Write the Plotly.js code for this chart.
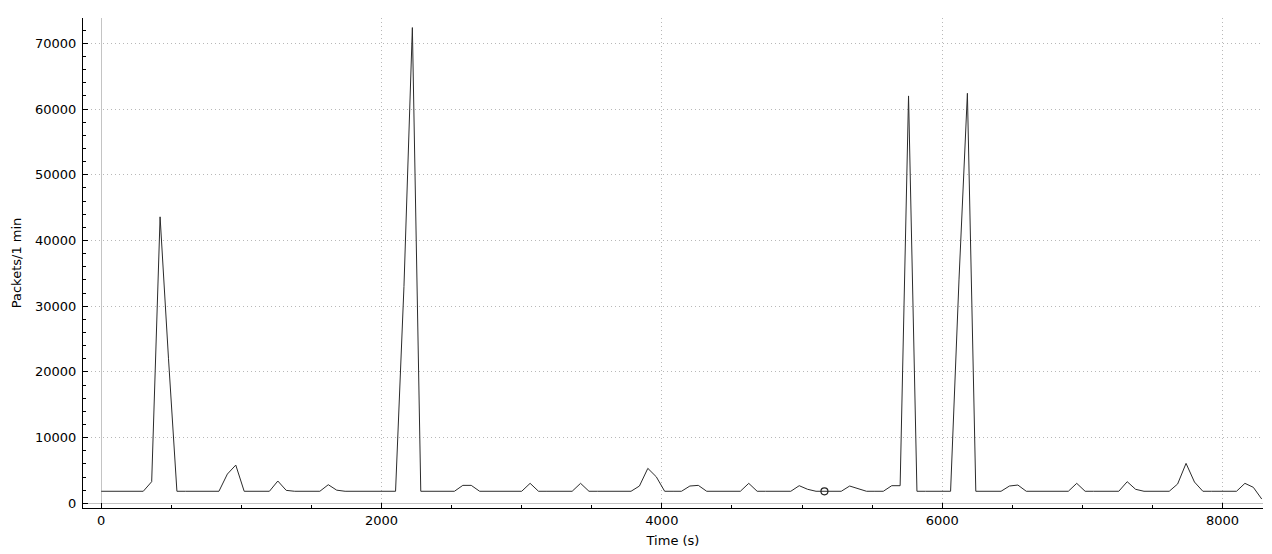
<!DOCTYPE html>
<html>
<head>
<meta charset="utf-8">
<script src="https://cdn.plot.ly/plotly-3.0.1.min.js"></script>
<style>
  html, body { margin: 0; padding: 0; background: #fff; }
  #io-graph { width: 1272px; height: 554px; }
</style>
</head>
<body>
<div id="io-graph"></div>
<script>
// packets per 1 min interval, one value every 60 s starting at t = 0
var packetsPerMin = [
    1830, 1830, 1830, 1830, 1830, 1830, 3290, 43600, 22000, 1830,
    1830, 1830, 1830, 1830, 1830, 4450, 5820, 1830, 1830, 1830,
    1830, 3390, 1970, 1830, 1830, 1830, 1830, 2830, 2000, 1830,
    1830, 1830, 1830, 1830, 1830, 1830, 33000, 72400, 1830, 1830,
    1830, 1830, 1830, 2730, 2730, 1830, 1830, 1830, 1830, 1830,
    1830, 3040, 1830, 1830, 1830, 1830, 1830, 3040, 1830, 1830,
    1830, 1830, 1830, 1830, 2630, 5320, 4040, 1830, 1830, 1830,
    2630, 2730, 1830, 1830, 1830, 1830, 1830, 3040, 1830, 1830,
    1830, 1830, 1830, 2680, 2130, 1830, 1830, 1830, 1830, 2630,
    2250, 1830, 1830, 1830, 2680, 2680, 62000, 1830, 1830, 1830,
    1830, 1830, 34000, 62400, 1830, 1830, 1830, 1830, 2630, 2780,
    1830, 1830, 1830, 1830, 1830, 1830, 3040, 1830, 1830, 1830,
    1830, 1830, 3290, 2130, 1830, 1830, 1830, 1830, 2940, 6080,
    3240, 1830, 1830, 1830, 1830, 1830, 3040, 2430, 650
];
var intervalSec = 60;

// the selected-packet marker
var cursorTime = [5160];
var cursorPackets = [1830];

var xTickVals = [0, 2000, 4000, 6000, 8000];
var yTickVals = [0, 10000, 20000, 30000, 40000, 50000, 60000, 70000];

var trace = {
    y: packetsPerMin,
    x0: 0,
    dx: intervalSec,
    type: "scatter",
    mode: "lines",
    line: {color: "#2b2b2b", width: 1},
    hoverinfo: "skip"
};
var cursor = {
    x: cursorTime,
    y: cursorPackets,
    type: "scatter",
    mode: "markers",
    marker: {symbol: "circle-open", size: 7, color: "#222", line: {width: 1.2}},
    hoverinfo: "skip"
};

var font = {family: "DejaVu Sans, sans-serif", size: 13, color: "#000"};

var layout = {
    width: 1272,
    height: 554,
    margin: {l: 83, r: 9, t: 18, b: 46},
    paper_bgcolor: "#fff",
    plot_bgcolor: "#fff",
    showlegend: false,
    font: font,
    xaxis: {
        title: {text: "Time (s)", font: font, standoff: 9},
        range: [-130, 8289],
        tickvals: xTickVals,
        tickformat: "d",
        showline: true, linecolor: "#000", linewidth: 1,
        ticks: "inside", ticklen: 5, tickcolor: "#000",
        minor: {dtick: 500, ticks: "inside", ticklen: 3, tickcolor: "#000", showgrid: false},
        showgrid: true, gridcolor: "#b8b8b8", griddash: "1px,3px", gridwidth: 1,
        zeroline: true, zerolinecolor: "#c4c4c4", zerolinewidth: 1
    },
    yaxis: {
        title: {text: "Packets/1 min", font: font, standoff: 10},
        range: [-714, 73860],
        tickvals: yTickVals,
        tickformat: "d",
        ticklabelstandoff: 3,
        showline: true, linecolor: "#000", linewidth: 1,
        ticks: "inside", ticklen: 5, tickcolor: "#000",
        minor: {dtick: 2000, ticks: "inside", ticklen: 3, tickcolor: "#000", showgrid: false},
        showgrid: true, gridcolor: "#b8b8b8", griddash: "1px,3px", gridwidth: 1,
        zeroline: true, zerolinecolor: "#c4c4c4", zerolinewidth: 1
    }
};

Plotly.newPlot("io-graph", [trace, cursor], layout, {staticPlot: true, displayModeBar: false});
</script>
</body>
</html>
